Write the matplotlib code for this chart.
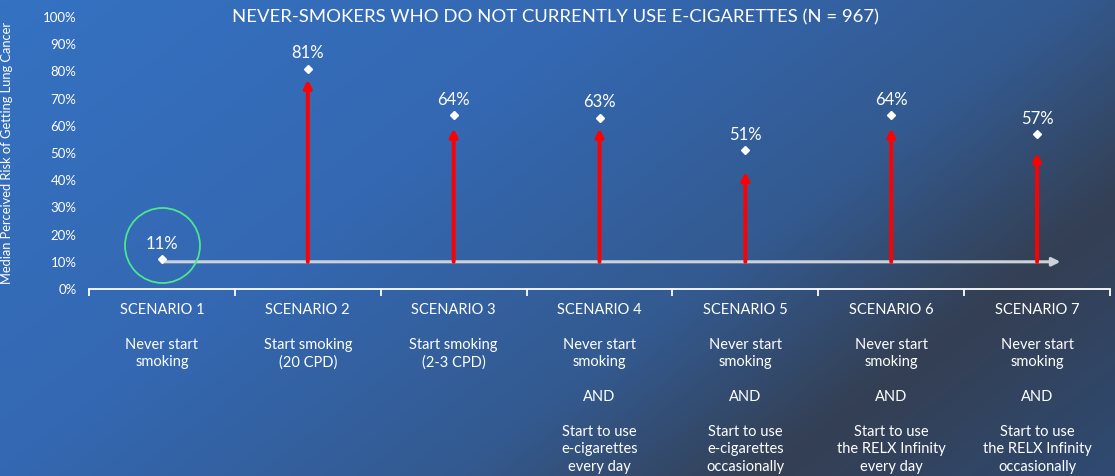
import numpy as np
import matplotlib.pyplot as plt
from matplotlib.colors import LinearSegmentedColormap

plt.rcParams['font.family'] = ['Lato', 'DejaVu Sans']

scenarios = ["SCENARIO 1", "SCENARIO 2", "SCENARIO 3", "SCENARIO 4",
             "SCENARIO 5", "SCENARIO 6", "SCENARIO 7"]
descriptions = [
    "Never start\nsmoking",
    "Start smoking\n(20 CPD)",
    "Start smoking\n(2-3 CPD)",
    "Never start\nsmoking\n\nAND\n\nStart to use\ne-cigarettes\nevery day",
    "Never start\nsmoking\n\nAND\n\nStart to use\ne-cigarettes\noccasionally",
    "Never start\nsmoking\n\nAND\n\nStart to use\nthe RELX Infinity\nevery day",
    "Never start\nsmoking\n\nAND\n\nStart to use\nthe RELX Infinity\noccasionally",
]
median_risk = [11, 81, 64, 63, 51, 64, 57]
# red arrows rise from the scenario 1 baseline and stop a bit short of each point
arrow_tops = [None, 77, 59, 59, 43, 59, 50]
baseline = 10

fig = plt.figure(figsize=(11.15, 4.76), dpi=100)

# gradient backdrop
bg = fig.add_axes([0, 0, 1, 1])
bg.set_axis_off()
h, w = 476, 1115
yy, xx = np.mgrid[0:h, 0:w]
t = (xx + 1.3 * yy) / (w + 1.3 * h)
cmap = LinearSegmentedColormap.from_list(
    "bg", [(0.0, "#3572c2"), (0.35, "#3468b2"), (0.62, "#335a90"),
           (0.8, "#343f53"), (1.0, "#2f4a72")])
bg.imshow(t, cmap=cmap, aspect="auto", extent=[0, 1, 0, 1], origin="upper")
bg.set_xlim(0, 1)
bg.set_ylim(0, 1)

ax = fig.add_axes([89 / w, 1 - 289 / h, (1110 - 89) / w, (289 - 17) / h])
ax.set_facecolor("none")
x = np.arange(len(scenarios))
ax.set_xlim(-0.5, len(scenarios) - 0.5)
ax.set_ylim(0, 100)

# white arrow along the baseline
ax.annotate("", xy=(6.16, baseline), xytext=(0, baseline),
            arrowprops=dict(arrowstyle="-|>", color="#cdd2da", lw=2.2,
                            mutation_scale=12, shrinkA=0, shrinkB=0),
            zorder=2)

for i in range(1, len(scenarios)):
    ax.annotate("", xy=(x[i], arrow_tops[i]), xytext=(x[i], baseline),
                arrowprops=dict(arrowstyle="-|>", color="#ff0000", lw=2.8,
                                mutation_scale=11, shrinkA=0, shrinkB=0),
                zorder=3)

ax.plot(x, median_risk, linestyle="none", marker="D", ms=4.5,
        color="white", zorder=4)
for xi, v in zip(x, median_risk):
    ax.annotate(f"{v}%", (xi, v), xytext=(0, 11), textcoords="offset points",
                ha="center", va="center", color="white", fontsize=12)

# highlight ring around scenario 1
ax.plot([0], [16.2], linestyle="none", marker="o", ms=54, mfc="none",
        mec="#4ee590", mew=1.3, zorder=5)

ax.set_yticks(np.arange(0, 101, 10))
ax.set_yticklabels([f"{v}%" for v in range(0, 101, 10)])
ax.tick_params(axis="y", length=0, colors="white", labelsize=9.5, pad=9)

ax.set_xticks(x)
ax.set_xticklabels([f"{s}\n\n{d}" for s, d in zip(scenarios, descriptions)],
                   linespacing=1.31)
ax.tick_params(axis="x", which="major", length=0, colors="white",
               labelsize=10.5, pad=10)
ax.set_xticks(np.arange(-0.5, len(scenarios)), minor=True)
ax.tick_params(axis="x", which="minor", length=5, width=1.3, color="white",
               direction="out")

for side in ["left", "right", "top"]:
    ax.spines[side].set_visible(False)
ax.spines["bottom"].set_color("white")
ax.spines["bottom"].set_linewidth(1.3)

ax.set_ylabel("Median Perceived Risk of Getting Lung Cancer", color="white",
              fontsize=9.3, labelpad=8)
ax.yaxis.set_label_coords(-76 / (1110 - 89), 0.5)

fig.text(556 / w, 1 - 17 / h, "NEVER-SMOKERS WHO DO NOT CURRENTLY USE E-CIGARETTES (N = 967)",
         ha="center", va="center", color="white", fontsize=13.3)

fig.savefig("out.png", dpi=100)
